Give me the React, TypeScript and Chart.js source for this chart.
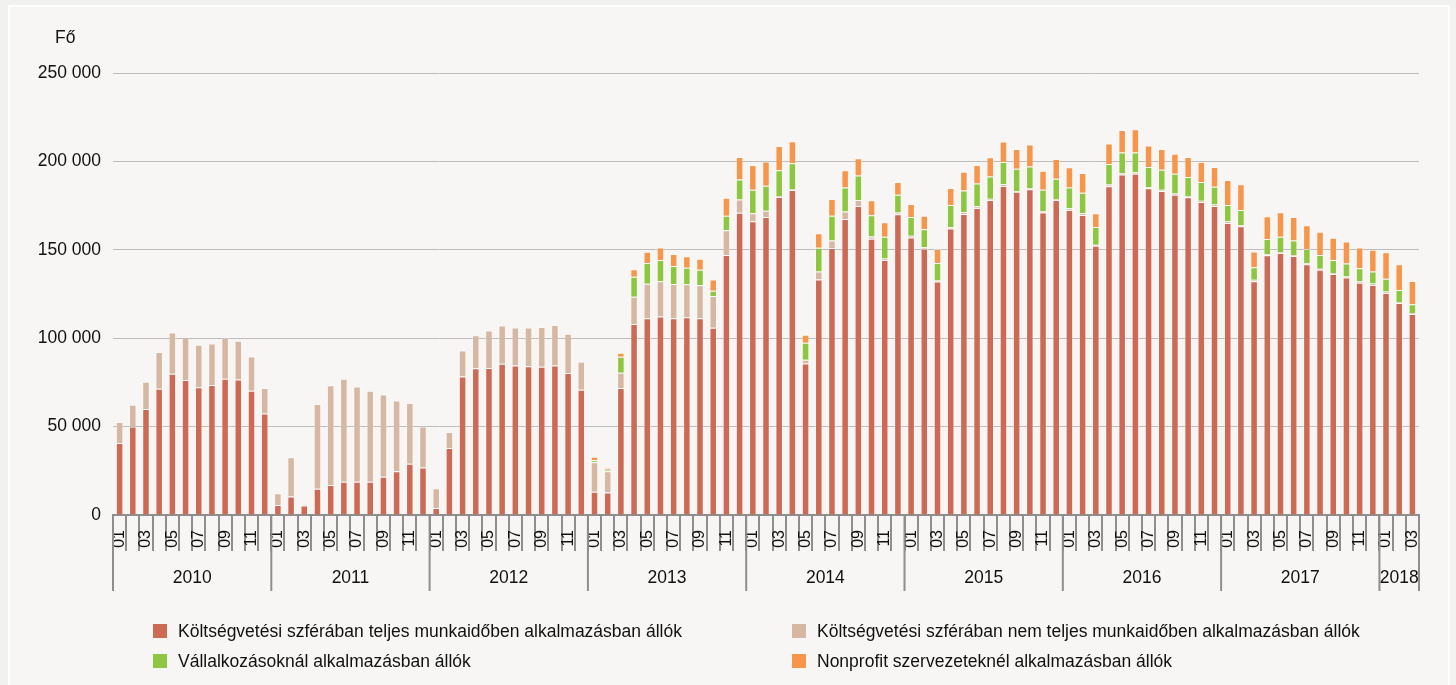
import React, { useEffect, useRef } from "react";
import { Chart, registerables } from "chart.js";

Chart.register(...registerables);

const years = ["2010", "2011", "2012", "2013", "2014", "2015", "2016", "2017", "2018"];
const monthsPerYear = [12, 12, 12, 12, 12, 12, 12, 12, 3];
const monthNames = ["01", "02", "03", "04", "05", "06", "07", "08", "09", "10", "11", "12"];
const yTicks = [0, 50000, 100000, 150000, 200000, 250000];

const seriesNames = [
  "Költségvetési szférában teljes munkaidőben alkalmazásban állók",
  "Költségvetési szférában nem teljes munkaidőben alkalmazásban állók",
  "Vállalkozásoknál alkalmazásban állók",
  "Nonprofit szervezeteknél alkalmazásban állók",
];
const seriesColors = ["#cc6a56", "#d6b7a1", "#8dc63f", "#f7964a"];

// Költségvetési szféra, teljes munkaidő
const fullTime = [
  40700, 50000, 60000, 71400, 79900, 76400, 72300, 73600, 77100, 76600, 70300, 57400,
  5600, 10400, 5400, 14900, 16900, 18800, 18800, 18800, 21600, 24700, 29000, 26800,
  4000, 37900, 78300, 83000, 83200, 85500, 84600, 84200, 83800, 84600, 80300, 70900,
  13100, 12700, 71900, 108000, 111300, 112300, 111300, 111900, 111300, 105900, 147100, 170900,
  166200, 168600, 179900, 183800, 85700, 133200, 151000, 167400, 174800, 156300, 144300, 170100,
  157000, 150600, 132000, 162100, 170300, 173600, 178100, 186100, 182800, 184200, 171100, 178100,
  172500, 169700, 152300, 185900, 192600, 193000, 184800, 183200, 181100, 179700, 177100, 174800,
  165200, 163300, 132200, 146900, 148200, 146500, 141800, 138700, 136300, 134400, 131400, 130100,
  125600, 119900, 113700,
];

// Költségvetési szféra, nem teljes munkaidő
const partTime = [
  11900, 12300, 15300, 20800, 23300, 24200, 24000, 23400, 23100, 21900, 19300, 14500,
  6700, 22300, 400, 47900, 56500, 58300, 53900, 51500, 46600, 40000, 34400, 23200,
  11200, 9100, 14700, 18600, 21100, 21700, 21400, 21800, 22600, 22800, 22200, 15800,
  16800, 12100, 8600, 15400, 19500, 19900, 19300, 18600, 18600, 18000, 13900, 7600,
  4500, 3500, 600, 600, 2100, 4500, 4300, 4300, 3300, 1200, 800, 1000,
  1000, 800, 600, 600, 1000, 1000, 800, 1000, 400, 600, 800, 600,
  1000, 1000, 600, 1000, 800, 800, 600, 800, 800, 400, 600, 800,
  1000, 600, 800, 600, 600, 600, 600, 600, 600, 600, 1000, 800,
  800, 600, 600,
];

// Vállalkozások
const business = [
  0, 0, 0, 0, 0, 0, 0, 0, 0, 0, 0, 0,
  0, 0, 0, 0, 0, 0, 0, 0, 0, 0, 0, 0,
  0, 0, 0, 0, 0, 0, 0, 0, 0, 0, 0, 0,
  1000, 800, 9000, 11300, 11700, 12100, 10200, 9400, 8800, 2900, 8200, 11300,
  13300, 14100, 14500, 14500, 9600, 13500, 13900, 13500, 13900, 12100, 12300, 10000,
  10500, 10200, 10000, 12700, 12300, 12900, 12500, 12500, 12700, 12300, 12100, 11500,
  11700, 11500, 10000, 11700, 11700, 11300, 11500, 11300, 11100, 11100, 10700, 10000,
  9200, 8600, 7200, 8600, 8600, 8200, 8000, 7800, 7400, 7200, 7200, 6800,
  7200, 6800, 4900,
];

// Nonprofit szervezetek
const nonprofit = [
  0, 0, 0, 0, 0, 0, 0, 0, 0, 0, 0, 0,
  0, 0, 0, 0, 0, 0, 0, 0, 0, 0, 0, 0,
  0, 0, 0, 0, 0, 0, 0, 0, 0, 0, 0, 0,
  2000, 1000, 2300, 4300, 6400, 7000, 6800, 6400, 6300, 6400, 10200, 12700,
  13900, 13700, 13700, 12500, 4500, 8200, 9600, 9800, 9800, 8400, 8200, 7200,
  7400, 7600, 7800, 9600, 10500, 10400, 10900, 11700, 11100, 12500, 10700, 11100,
  11500, 11300, 7800, 11500, 12700, 13100, 12100, 11700, 11300, 11300, 11300, 11300,
  14100, 14600, 8800, 12900, 13900, 13300, 13500, 13100, 12500, 12500, 11700, 12300,
  15000, 14500, 13100,
];

const seriesValues = [fullTime, partTime, business, nonprofit];

const FONT = "'Liberation Sans', Arial, sans-serif";
const AXIS_GRAY = "#8e8e8e";

function buildLabels(): string[] {
  const out: string[] = [];
  monthsPerYear.forEach((n) => {
    for (let m = 0; m < n; m++) out.push(monthNames[m]);
  });
  return out;
}

function formatThousands(v: number): string {
  return String(v).replace(/\B(?=(\d{3})+(?!\d))/g, " ");
}

const yearAxisPlugin = {
  id: "yearAxis",
  afterDraw(chart: any) {
    const ctx = chart.ctx;
    const xs = chart.scales.x;
    const area = chart.chartArea;
    const top = area.bottom;
    const sepBottom = top + 76;
    const n = chart.data.labels.length;
    const boundary = (i: number) => {
      if (i <= 0) return area.left;
      if (i >= n) return area.right;
      return (xs.getPixelForValue(i - 1) + xs.getPixelForValue(i)) / 2;
    };
    ctx.save();
    ctx.strokeStyle = AXIS_GRAY;
    ctx.lineWidth = 2;
    ctx.fillStyle = "#111";
    ctx.font = `17.5px ${FONT}`;
    ctx.textAlign = "center";
    ctx.textBaseline = "middle";
    let start = 0;
    years.forEach((yr, k) => {
      const end = start + monthsPerYear[k];
      const l = boundary(start);
      const r = boundary(end);
      ctx.beginPath();
      ctx.moveTo(l, top);
      ctx.lineTo(l, sepBottom);
      ctx.stroke();
      if (k === years.length - 1) {
        ctx.beginPath();
        ctx.moveTo(r, top);
        ctx.lineTo(r, sepBottom);
        ctx.stroke();
      }
      ctx.fillText(yr, (l + r) / 2, top + 63);
      start = end;
    });
    // unit label
    ctx.textAlign = "left";
    ctx.font = `17.5px ${FONT}`;
    ctx.fillText("Fő", 55, 38);
    ctx.restore();
  },
};

function ChartCanvas() {
  const ref = useRef<HTMLCanvasElement | null>(null);
  useEffect(() => {
    if (!ref.current) return;
    const labels = buildLabels();
    const chart = new Chart(ref.current, {
      type: "bar",
      data: {
        labels,
        datasets: seriesValues.map((vals, i) => ({
          label: seriesNames[i],
          data: vals,
          backgroundColor: seriesColors[i],
          borderColor: "rgba(255,255,255,0.35)",
          borderWidth: 1,
          categoryPercentage: 1,
          barPercentage: 0.57,
        })),
      },
      options: {
        animation: false,
        responsive: false,
        maintainAspectRatio: false,
        layout: { padding: { top: 73, right: 37, left: 0, bottom: 0 } },
        plugins: { legend: { display: false }, tooltip: { enabled: false } },
        scales: {
          x: {
            stacked: true,
            offset: true,
            grid: {
              display: true,
              drawOnChartArea: false,
              drawTicks: true,
              tickLength: 36,
              color: AXIS_GRAY,
              lineWidth: 2,
              offset: true,
            },
            border: { display: true, color: AXIS_GRAY, width: 2 },
            ticks: {
              autoSkip: false,
              minRotation: 90,
              maxRotation: 90,
              padding: -21,
              color: "#111",
              font: { family: FONT, size: 16 },
              callback: (_v: any, i: number) => (i % 2 === 0 ? labels[i] : ""),
            },
            afterFit: (s: any) => {
              s.height = 170;
            },
          },
          y: {
            stacked: true,
            min: 0,
            max: 250000,
            afterBuildTicks: (s: any) => {
              s.ticks = yTicks.map((v) => ({ value: v }));
            },
            grid: { color: "#bdbdbd", lineWidth: 1, drawTicks: false },
            border: { display: false },
            ticks: {
              padding: 12,
              color: "#111",
              font: { family: FONT, size: 17.5 },
              callback: (v: any) => formatThousands(Number(v)),
            },
            afterFit: (s: any) => {
              s.width = 113;
            },
          },
        },
      },
      plugins: [yearAxisPlugin],
    });
    return () => chart.destroy();
  }, []);
  return (
    <canvas
      ref={ref}
      width={1456}
      height={685}
      style={{ position: "absolute", left: 0, top: 0, width: 1456, height: 685 }}
    />
  );
}

function Legend() {
  const rows = [
    [0, 1],
    [2, 3],
  ];
  const colX = [153, 792];
  const rowY = [631, 661];
  return (
    <>
      {rows.map((row, r) =>
        row.map((si, c) => (
          <div
            key={si}
            style={{
              position: "absolute",
              left: colX[c],
              top: rowY[r] - 10,
              height: 20,
              display: "flex",
              alignItems: "center",
              whiteSpace: "nowrap",
              fontFamily: FONT,
              fontSize: 17.5,
              color: "#111",
            }}
          >
            <span
              style={{
                display: "inline-block",
                width: 14,
                height: 14,
                background: seriesColors[si],
                marginRight: 11,
              }}
            />
            <span>{seriesNames[si]}</span>
          </div>
        ))
      )}
    </>
  );
}

export default function App() {
  return (
    <div
      style={{
        position: "fixed",
        left: 0,
        top: 0,
        width: 1456,
        height: 685,
        background: "#f1f1ef",
        overflow: "hidden",
      }}
    >
      <div
        style={{
          position: "absolute",
          left: 8,
          top: 5,
          width: 1442,
          height: 700,
          border: "2px solid #ffffff",
          background: "#f7f6f4",
          boxSizing: "border-box",
        }}
      />
      <ChartCanvas />
      <Legend />
    </div>
  );
}
